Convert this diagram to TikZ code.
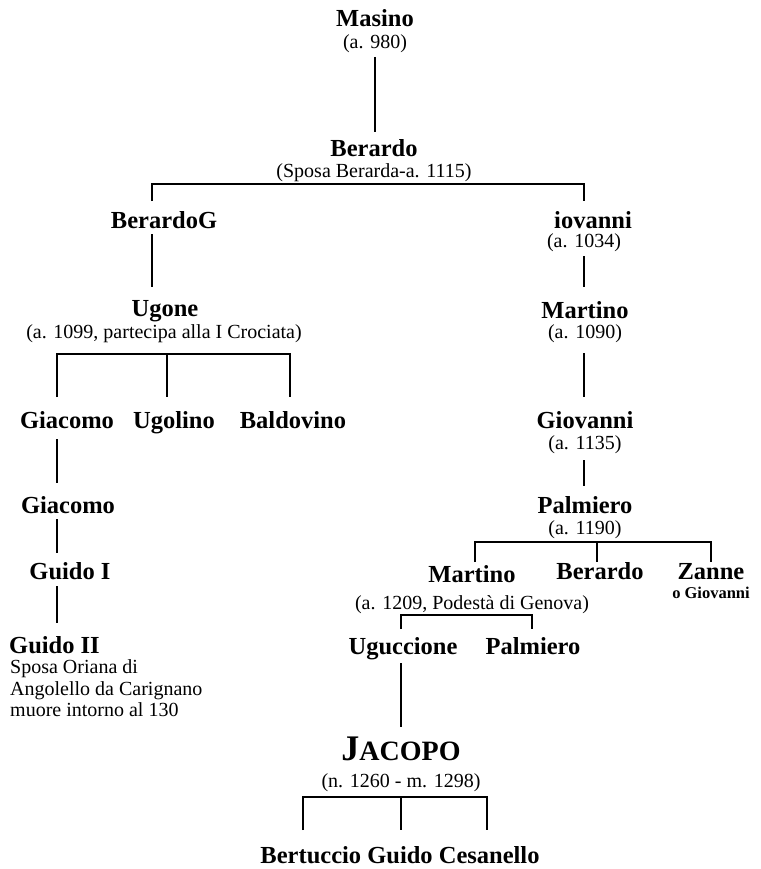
\documentclass[tikz,border=0pt]{standalone}
\usepackage{fontspec}
\setmainfont{Liberation Serif}

\tikzset{
  nome/.style={font=\fontsize{24.5}{27}\selectfont\bfseries, anchor=base, inner sep=0pt},
  nota/.style={font=\fontsize{20}{22}\selectfont, anchor=base, inner sep=0pt},
  ramo/.style={line width=2pt}
}

\begin{document}
\begin{tikzpicture}[x=1pt, y=-1pt]
    \useasboundingbox (0,0) rectangle (760,869);

    %primo livello
    \node[nome] (masino) at (375,27) {Masino};
    \node[nota] (masinoN) at (375,49) {(a. 980)};
    \node[nome] (berardo) at (374,157) {Berardo};
    \node[nota] (berardoN) at (374,178) {(Sposa Berarda-a. 1115)};

    %ramo sinistro
    \node[nome] (berardoG) at (164,228) {BerardoG};
    \node[nome] (ugone) at (165,316) {Ugone};
    \node[nota] (ugoneN) at (164,338) {(a. 1099, partecipa alla I Crociata)};
    \node[nome] (giacomoA) at (67,428) {Giacomo};
    \node[nome] (ugolino) at (174,428) {Ugolino};
    \node[nome] (baldovino) at (293,428) {Baldovino};
    \node[nome] (giacomoB) at (68,513) {Giacomo};
    \node[nome] (guidoA) at (70,579) {Guido I};
    \node[nome, anchor=base west] (guidoB) at (9,653) {Guido II};
    \node[nota, anchor=base west] (guidoBA) at (10,673) {Sposa Oriana di};
    \node[nota, anchor=base west] (guidoBB) at (10,695) {Angolello da Carignano};
    \node[nota, anchor=base west] (guidoBC) at (10,716) {muore intorno al 130};

    %ramo destro
    \node[nome] (iovanni) at (593,228) {iovanni};
    \node[nota] (iovanniN) at (584,247) {(a. 1034)};
    \node[nome] (martinoA) at (585,318) {Martino};
    \node[nota] (martinoAN) at (585,338) {(a. 1090)};
    \node[nome] (giovanni) at (585,428) {Giovanni};
    \node[nota] (giovanniN) at (585,449) {(a. 1135)};
    \node[nome] (palmieroA) at (585,513) {Palmiero};
    \node[nota] (palmieroAN) at (585,534) {(a. 1190)};
    \node[nome] (martinoB) at (472,582) {Martino};
    \node[nota] (martinoBN) at (472,609) {(a. 1209, Podestà di Genova)};
    \node[nome] (berardoB) at (600,579) {Berardo};
    \node[nome] (zanne) at (711,579) {Zanne};
    \node[nome, font=\fontsize{16.5}{18}\selectfont\bfseries] (zanneN) at (711,598) {o Giovanni};
    \node[nome] (uguccione) at (403,654) {Uguccione};
    \node[nome] (palmieroB) at (533,654) {Palmiero};

    %Jacopo e figli
    \node[nome] (jacopo) at (401,760) {\fontsize{36}{36}\selectfont J\fontsize{28}{28}\selectfont ACOPO};
    \node[nota] (jacopoN) at (401,787) {(n. 1260 - m. 1298)};
    \node[nome] (figli) at (400,863) {Bertuccio Guido Cesanello};

    %punti dei rami
    \coordinate (m1) at (375,57);   \coordinate (m2) at (375,132);
    \coordinate (b1) at (152,201);  \coordinate (b2) at (584,201);  \coordinate (bh) at (375,184);
    \coordinate (g1) at (152,234);  \coordinate (g2) at (152,287);
    \coordinate (i1) at (584,256);  \coordinate (i2) at (584,287);
    \coordinate (u1) at (57,397);   \coordinate (u2) at (167,397);  \coordinate (u3) at (290,397);
    \coordinate (uh) at (167,354);
    \coordinate (ma1) at (584,353); \coordinate (ma2) at (584,397);
    \coordinate (ga1) at (57,439);  \coordinate (ga2) at (57,483);
    \coordinate (gi1) at (584,460); \coordinate (gi2) at (584,486);
    \coordinate (gb1) at (57,519);  \coordinate (gb2) at (57,553);
    \coordinate (p1) at (475,562);  \coordinate (p2) at (597,562);  \coordinate (p3) at (711,562);
    \coordinate (ph) at (597,542);
    \coordinate (gu1) at (57,586);  \coordinate (gu2) at (57,623);
    \coordinate (mb1) at (401,629); \coordinate (mb2) at (532,629); \coordinate (mbh) at (467,615);
    \coordinate (ug1) at (401,663); \coordinate (ug2) at (401,727);
    \coordinate (j1) at (303,830);  \coordinate (j2) at (401,830);  \coordinate (j3) at (487,830);
    \coordinate (jh) at (401,797);

    %disegno rami
    \draw[ramo] (m1) -- (m2);
    \draw[ramo] (b1) |- (bh) -| (b2);
    \draw[ramo] (g1) -- (g2);
    \draw[ramo] (i1) -- (i2);
    \draw[ramo] (u1) |- (uh) -| (u3);
    \draw[ramo] (uh) -- (u2);
    \draw[ramo] (ma1) -- (ma2);
    \draw[ramo] (ga1) -- (ga2);
    \draw[ramo] (gi1) -- (gi2);
    \draw[ramo] (gb1) -- (gb2);
    \draw[ramo] (p1) |- (ph) -| (p3);
    \draw[ramo] (ph) -- (p2);
    \draw[ramo] (gu1) -- (gu2);
    \draw[ramo] (mb1) |- (mbh) -| (mb2);
    \draw[ramo] (ug1) -- (ug2);
    \draw[ramo] (j1) |- (jh) -| (j3);
    \draw[ramo] (jh) -- (j2);
\end{tikzpicture}
\end{document}
